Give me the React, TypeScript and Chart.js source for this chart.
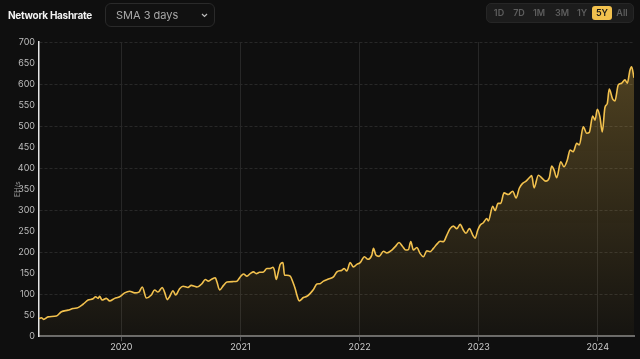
import React, { useEffect, useRef } from "react";
import { Chart, registerables } from "chart.js";

Chart.register(...registerables);

const chartTitle = "Network Hashrate";
const smaLabel = "SMA 3 days";
const unitLabel = "EH/s";
const rangeButtons = ["1D", "7D", "1M", "3M", "1Y", "5Y", "All"];
const activeRange = "5Y";

const xMin = 2019.309;
const xMax = 2024.304;
const yearTicks = [2020, 2021, 2022, 2023, 2024];
const yMin = 0;
const yMax = 700;
const yStep = 50;

// decimal year of each sample
const sampleYears = [
  2019.309, 2019.329, 2019.348, 2019.385, 2019.455, 2019.497, 2019.553, 2019.595, 2019.637, 2019.679,
  2019.721, 2019.763, 2019.784, 2019.805, 2019.818, 2019.838, 2019.874, 2019.902, 2019.944, 2019.986,
  2020.028, 2020.07, 2020.112, 2020.148, 2020.176, 2020.21, 2020.252, 2020.279, 2020.308, 2020.344,
  2020.363, 2020.386, 2020.405, 2020.434, 2020.456, 2020.489, 2020.518, 2020.56, 2020.587, 2020.615,
  2020.635, 2020.677, 2020.705, 2020.732, 2020.761, 2020.789, 2020.803, 2020.825, 2020.858, 2020.887,
  2020.942, 2020.971, 2020.998, 2021.026, 2021.055, 2021.082, 2021.11, 2021.133, 2021.16, 2021.194,
  2021.222, 2021.25, 2021.273, 2021.286, 2021.3, 2021.315, 2021.334, 2021.357, 2021.37, 2021.39,
  2021.418, 2021.44, 2021.46, 2021.474, 2021.493, 2021.529, 2021.558, 2021.586, 2021.613, 2021.642,
  2021.669, 2021.697, 2021.739, 2021.781, 2021.81, 2021.852, 2021.871, 2021.893, 2021.921, 2021.949,
  2021.977, 2022.005, 2022.041, 2022.07, 2022.103, 2022.117, 2022.137, 2022.164, 2022.201, 2022.229,
  2022.271, 2022.299, 2022.332, 2022.36, 2022.388, 2022.41, 2022.43, 2022.452, 2022.481, 2022.508,
  2022.536, 2022.565, 2022.592, 2022.62, 2022.649, 2022.676, 2022.704, 2022.732, 2022.76, 2022.788,
  2022.816, 2022.844, 2022.872, 2022.894, 2022.922, 2022.951, 2022.97, 2022.992, 2023.012, 2023.039,
  2023.068, 2023.081, 2023.118, 2023.138, 2023.163, 2023.185, 2023.213, 2023.249, 2023.286, 2023.314,
  2023.341, 2023.367, 2023.398, 2023.425, 2023.445, 2023.465, 2023.501, 2023.529, 2023.563, 2023.593,
  2023.613, 2023.633, 2023.655, 2023.689, 2023.716, 2023.744, 2023.767, 2023.794, 2023.823, 2023.845,
  2023.878, 2023.907, 2023.929, 2023.957, 2023.977, 2023.996, 2024.018, 2024.038, 2024.06, 2024.08,
  2024.096, 2024.125, 2024.144, 2024.172, 2024.2, 2024.228, 2024.248, 2024.27, 2024.284, 2024.304,
];

// hashrate in EH/s
const hashrateValues = [
  42, 44, 40, 46, 48, 58, 62, 66, 68, 76,
  86, 89, 94, 90, 95, 86, 90, 84, 90, 94,
  103, 107, 103, 105, 117, 91, 98, 110, 105, 116,
  105, 87, 94, 108, 98, 113, 119, 116, 121, 119,
  117, 125, 135, 131, 136, 139, 129, 110, 121, 129,
  130, 131, 141, 148, 143, 149, 153, 149, 152, 153,
  161, 161, 164, 156, 135, 149, 171, 175, 145, 145,
  143, 129, 113, 98, 84, 92, 95, 102, 111, 124,
  125, 131, 136, 141, 153, 157, 161, 155, 175, 165,
  171, 175, 189, 183, 193, 209, 193, 190, 202, 198,
  205, 213, 223, 214, 205, 206, 225, 205, 211, 197,
  189, 203, 201, 209, 219, 226, 225, 240, 256, 262,
  256, 266, 252, 245, 256, 240, 233, 252, 264, 270,
  280, 274, 309, 299, 316, 316, 341, 337, 345, 329,
  352, 363, 369, 377, 382, 353, 383, 377, 369, 377,
  405, 395, 377, 415, 403, 419, 443, 439, 459, 455,
  498, 483, 485, 524, 514, 540, 522, 486, 544, 554,
  588, 564, 560, 598, 602, 610, 602, 633, 641, 615,
];

const lineColor = "#f2c14e";
const bgColor = "#0f0f0f";

function HashrateChart() {
  const canvasRef = useRef<HTMLCanvasElement | null>(null);

  useEffect(() => {
    document.body.style.margin = "0";
    document.body.style.background = bgColor;
    const canvas = canvasRef.current;
    if (!canvas) return;
    const points = sampleYears.map((x, i) => ({ x, y: hashrateValues[i] }));
    const chart = new Chart(canvas, {
      type: "line",
      data: {
        datasets: [
          {
            data: points,
            borderColor: lineColor,
            borderWidth: 1.6,
            pointRadius: 0,
            cubicInterpolationMode: "monotone",
            fill: "origin",
            backgroundColor: (ctx: any) => {
              const c = ctx.chart;
              const area = c.chartArea;
              if (!area) return "rgba(242,193,78,0.1)";
              const g = c.ctx.createLinearGradient(0, area.top, 0, area.bottom);
              g.addColorStop(0, "rgba(242,193,78,0.3)");
              g.addColorStop(1, "rgba(242,193,78,0.03)");
              return g;
            },
          },
        ],
      },
      options: {
        responsive: false,
        animation: false,
        devicePixelRatio: 1,
        layout: { padding: { top: 42, right: 6, bottom: 5, left: 0 } },
        plugins: { legend: { display: false }, tooltip: { enabled: false } },
        scales: {
          x: {
            type: "linear",
            min: xMin,
            max: xMax,
            afterBuildTicks: (axis: any) => {
              axis.ticks = yearTicks.map((v) => ({ value: v }));
            },
            ticks: {
              autoSkip: false,
              maxRotation: 0,
              color: "#cfcfcf",
              font: { family: "Inter, 'DejaVu Sans', sans-serif", size: 9 },
              padding: 1,
              callback: (v: any) => String(v),
            },
            grid: {
              color: "#272727",
              tickColor: "#555555",
              tickLength: 5,
              lineWidth: 1,
            },
            border: { color: "#6a6a6a", width: 2 },
          },
          y: {
            min: yMin,
            max: yMax,
            afterFit: (scale: any) => {
              scale.width = 39;
            },
            ticks: {
              stepSize: yStep,
              color: "#bdbdbd",
              font: { family: "Inter, 'DejaVu Sans', sans-serif", size: 9 },
              padding: 4,
            },
            grid: {
              drawTicks: false,
              color: (ctx: any) =>
                ctx.tick && ctx.tick.value % 100 === 0 && ctx.tick.value !== 0 ? "#282828" : "rgba(0,0,0,0)",
            },
            border: { color: "#e6e6e6", width: 1.5, dash: [3, 2] },
            title: {
              display: true,
              text: unitLabel,
              color: "#9a9a9a",
              font: { family: "Inter, 'DejaVu Sans', sans-serif", size: 7 },
              padding: { top: 14, bottom: 0 },
            },
          },
        },
      },
    });
    return () => chart.destroy();
  }, []);

  return (
    <canvas
      ref={canvasRef}
      width={640}
      height={359}
      style={{ position: "absolute", left: 0, top: 0, width: 640, height: 359 }}
    />
  );
}

export default function App() {
  const font = "Inter, 'DejaVu Sans', sans-serif";
  return (
    <div style={{ position: "relative", width: 640, height: 359, background: bgColor, overflow: "hidden", fontFamily: font }}>
      <HashrateChart />
      <div
        style={{
          position: "absolute",
          left: 8,
          top: 7,
          fontSize: 10,
          fontWeight: 700,
          letterSpacing: "-0.3px",
          color: "#f2f2f2",
          lineHeight: "16px",
          whiteSpace: "nowrap",
        }}
      >
        {chartTitle}
      </div>
      <div
        style={{
          position: "absolute",
          left: 105,
          top: 3,
          width: 110,
          height: 24,
          border: "1px solid #2a2a2a",
          borderRadius: 6,
          boxSizing: "border-box",
          background: "#111111",
        }}
      >
        <span style={{ position: "absolute", left: 10, top: 3, fontSize: 11, color: "#a8a8a8", lineHeight: "16px" }}>
          {smaLabel}
        </span>
        <svg style={{ position: "absolute", left: 95, top: 9 }} width="7" height="5" viewBox="0 0 7 5">
          <path d="M1 1 L3.5 3.5 L6 1" stroke="#bbbbbb" strokeWidth="1.2" fill="none" />
        </svg>
      </div>
      <div
        style={{
          position: "absolute",
          left: 486,
          top: 3,
          width: 148,
          height: 20,
          background: "#1c1c1c",
          border: "1px solid #262626",
          borderRadius: 5,
          boxSizing: "border-box",
        }}
      >
        {rangeButtons.map((r, i) => {
          const centers = [12, 32, 52, 75, 95, 115, 135];
          const active = r === activeRange;
          return (
            <div
              key={r}
              style={{
                position: "absolute",
                left: centers[i] - 10,
                top: 2,
                width: 20,
                height: 14,
                borderRadius: 3,
                background: active ? "#f2c14e" : "transparent",
                color: active ? "#1a1a1a" : "#5e5e5e",
                fontSize: 9,
                fontWeight: 600,
                lineHeight: "14px",
                textAlign: "center",
              }}
            >
              {r}
            </div>
          );
        })}
      </div>
    </div>
  );
}
